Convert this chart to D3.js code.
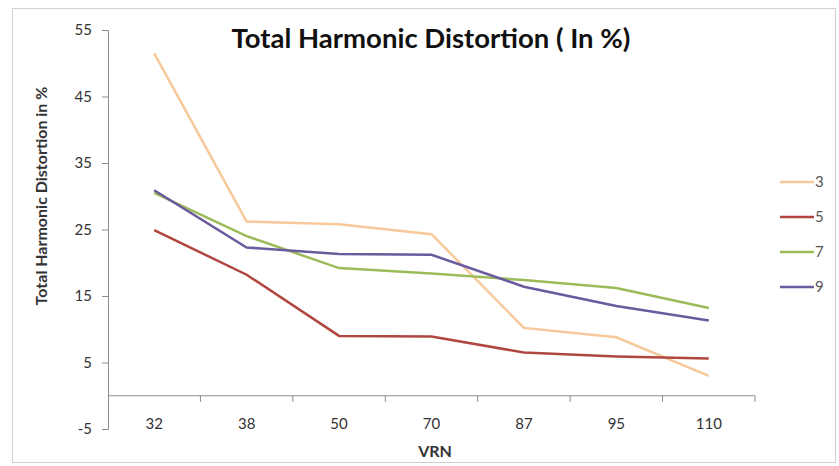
<!DOCTYPE html>
<html>
<head>
<meta charset="utf-8">
<script src="https://cdn.jsdelivr.net/npm/d3@7"></script>
<style>
  body { margin: 0; background: #fff; }
  text { font-family: Lato, "Open Sans", sans-serif; }
</style>
</head>
<body>
<div id="container"></div>
<script>
const categories = ['32', '38', '50', '70', '87', '95', '110'];
const seriesNames = ['3', '5', '7', '9'];
const values3 = [51.5, 26.2, 25.8, 24.3, 10.2, 8.8, 3.0];
const values5 = [24.9, 18.2, 9.0, 8.9, 6.5, 5.9, 5.6];
const values7 = [30.5, 24.0, 19.2, 18.4, 17.4, 16.2, 13.2];
const values9 = [30.9, 22.3, 21.3, 21.2, 16.4, 13.5, 11.3];
const yTicks = [-5, 5, 15, 25, 35, 45, 55];
const colors = ['#f7c89a', '#b0473f', '#9bbb59', '#6a5a9e'];

const main = () => {
    const svg = d3.select('#container')
        .append('svg')
        .attr('width', 839)
        .attr('height', 466);

    svg.append('rect')
        .attr('x', 12.5).attr('y', 8.5)
        .attr('width', 823).attr('height', 454)
        .attr('fill', '#fff')
        .attr('stroke', '#d0d0d0');

    const xScale = d3.scaleBand().domain(categories).range([108, 755]);
    const yScale = d3.scaleLinear().domain([-5, 55]).range([429, 30]);
    const xMid = (c) => xScale(c) + xScale.bandwidth() / 2;

    // y axis (plain hyphen for -5, like the original)
    const yAxis = d3.axisLeft(yScale)
        .tickValues(yTicks)
        .tickFormat((d) => String(d))
        .tickSize(6)
        .tickPadding(10);
    const yAxisGroup = svg.append('g')
        .attr('transform', 'translate(108,0)')
        .call(yAxis);
    yAxisGroup.select('.domain').attr('stroke', '#8c8c8c');
    yAxisGroup.selectAll('.tick line').attr('stroke', '#8c8c8c');
    yAxisGroup.selectAll('.tick text')
        .attr('fill', '#333')
        .style('font-size', '15px');

    // x axis line at 0 with ticks between categories
    const xAxisGroup = svg.append('g')
        .attr('transform', 'translate(0,' + yScale(0) + ')');
    xAxisGroup.append('line')
        .attr('x1', 108).attr('x2', 755)
        .attr('stroke', '#8c8c8c');
    xAxisGroup.selectAll('.bt')
        .data(categories.slice(1).concat(['end']))
        .enter()
        .append('line')
        .attr('class', 'bt')
        .attr('x1', (d, i) => i < categories.length - 1 ? xScale(d) : 755)
        .attr('x2', (d, i) => i < categories.length - 1 ? xScale(d) : 755)
        .attr('y1', 0).attr('y2', 6)
        .attr('stroke', '#8c8c8c');

    // category labels at the bottom
    const xLabels = d3.axisBottom(xScale).tickSize(0).tickPadding(0);
    const xLabelGroup = svg.append('g')
        .attr('transform', 'translate(0,' + (yScale(-5) - 11) + ')')
        .call(xLabels);
    xLabelGroup.select('.domain').remove();
    xLabelGroup.selectAll('.tick text')
        .attr('fill', '#333')
        .style('font-size', '15px');

    // lines
    const lineMaker = d3.line()
        .x((d, i) => xMid(categories[i]))
        .y((d) => yScale(d));

    const allSeries = [values3, values5, values7, values9];
    svg.selectAll('.series')
        .data(allSeries)
        .enter()
        .append('path')
        .attr('class', 'series')
        .attr('d', lineMaker)
        .attr('stroke', (d, i) => colors[i])
        .attr('stroke-width', 2.5)
        .attr('fill', 'none');

    // legend
    const legend = svg.selectAll('.legend')
        .data(seriesNames)
        .enter()
        .append('g')
        .attr('class', 'legend')
        .attr('transform', (d, i) => 'translate(780,' + (182 + i * 35) + ')');
    legend.append('line')
        .attr('x1', 0).attr('x2', 34)
        .attr('stroke', (d, i) => colors[i])
        .attr('stroke-width', 2.5);
    legend.append('text')
        .attr('x', 35).attr('dy', '0.35em')
        .attr('fill', '#555')
        .style('font-size', '15px')
        .text((d) => d);

    // titles
    svg.append('text')
        .attr('x', 431).attr('y', 48)
        .attr('text-anchor', 'middle')
        .style('font-size', '27.5px')
        .style('font-weight', 'bold')
        .attr('fill', '#111')
        .text('Total Harmonic Distortion ( In %)');

    svg.append('text')
        .attr('x', 435).attr('y', 457)
        .attr('text-anchor', 'middle')
        .style('font-size', '16px')
        .style('font-weight', 'bold')
        .attr('fill', '#333')
        .text('VRN');

    svg.append('text')
        .attr('transform', 'translate(47,196) rotate(-90)')
        .attr('text-anchor', 'middle')
        .style('font-size', '16px')
        .style('font-weight', 'bold')
        .attr('fill', '#333')
        .text('Total Harmonic Distortion in %');
};

main();
</script>
</body>
</html>
